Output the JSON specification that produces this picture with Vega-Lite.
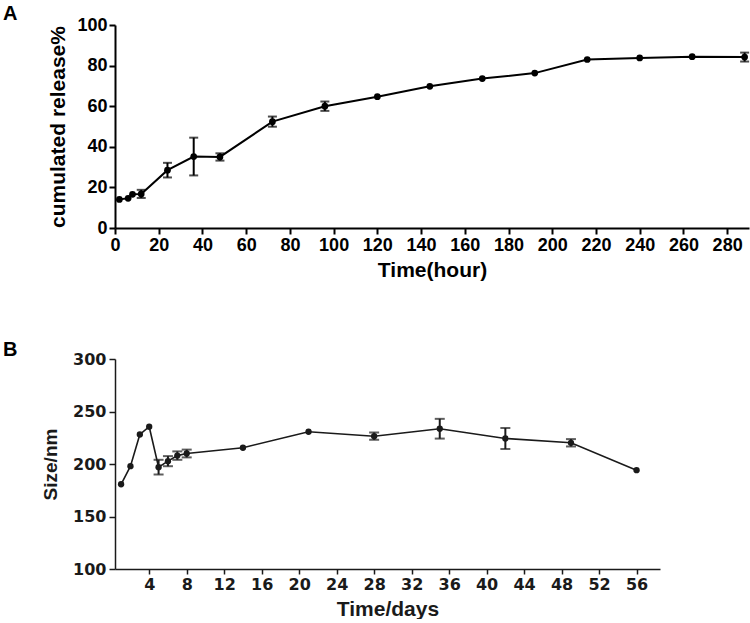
{
  "$schema": "https://vega.github.io/schema/vega-lite/v6.json",
  "padding": {"left": 3, "top": 4, "right": 0, "bottom": 0},
  "spacing": 60,
  "config": {"view": {"stroke": null}, "font": "Liberation Sans", "axis": {"grid": false}},
  "datasets": {
    "release": [
      {"time": 2, "mean": 14.1, "sd": 0},
      {"time": 6, "mean": 14.6, "sd": 0},
      {"time": 8, "mean": 16.6, "sd": 0},
      {"time": 12, "mean": 16.8, "sd": 2},
      {"time": 24, "mean": 28.5, "sd": 3.6},
      {"time": 36, "mean": 35.2, "sd": 9.3},
      {"time": 48, "mean": 35.0, "sd": 1.8},
      {"time": 72, "mean": 52.4, "sd": 2.5},
      {"time": 96, "mean": 60.0, "sd": 2.3},
      {"time": 120, "mean": 64.7, "sd": 0},
      {"time": 144, "mean": 69.8, "sd": 0},
      {"time": 168, "mean": 73.6, "sd": 0},
      {"time": 192, "mean": 76.3, "sd": 0},
      {"time": 216, "mean": 83.0, "sd": 0},
      {"time": 240, "mean": 83.8, "sd": 0},
      {"time": 264, "mean": 84.4, "sd": 0},
      {"time": 288, "mean": 84.2, "sd": 2.2}
    ],
    "size": [
      {"day": 1, "mean": 180.7, "sd": 0},
      {"day": 2, "mean": 197.9, "sd": 0},
      {"day": 3, "mean": 228.1, "sd": 0},
      {"day": 4, "mean": 235.5, "sd": 0},
      {"day": 5, "mean": 197.0, "sd": 7},
      {"day": 6, "mean": 202.7, "sd": 4.8},
      {"day": 7, "mean": 208.0, "sd": 4},
      {"day": 8, "mean": 210.0, "sd": 3.7},
      {"day": 14, "mean": 215.5, "sd": 0},
      {"day": 21, "mean": 230.7, "sd": 0},
      {"day": 28, "mean": 226.5, "sd": 3.5},
      {"day": 35, "mean": 233.6, "sd": 9.4},
      {"day": 42, "mean": 224.3, "sd": 10},
      {"day": 49, "mean": 220.2, "sd": 3.5},
      {"day": 56, "mean": 194.1, "sd": 0}
    ]
  },
  "vconcat": [
    {
      "title": {"text": "A", "anchor": "start", "frame": "group", "fontSize": 20, "fontWeight": "bold", "color": "black", "dx": -112, "offset": -8},
      "width": 634,
      "height": 203,
      "data": {"name": "release"},
      "encoding": {
        "x": {"field": "time", "type": "quantitative",
          "scale": {"domain": [0, 290], "nice": false, "zero": false},
          "axis": {"values": [0,20,40,60,80,100,120,140,160,180,200,220,240,260,280],
            "title": "Time(hour)", "titleFontSize": 21, "titleFontWeight": "bold", "titleColor": "black", "titlePadding": 5,
            "labelFontSize": 18, "labelFontWeight": "bold", "labelColor": "black", "labelPadding": 2,
            "labelFlush": false, "labelOverlap": false,
            "domainColor": "black", "domainWidth": 2, "tickColor": "black", "tickWidth": 2, "tickSize": 6}},
        "y": {"field": "mean", "type": "quantitative",
          "scale": {"domain": [0, 100], "nice": false},
          "axis": {"values": [0,20,40,60,80,100],
            "title": "cumulated release%", "titleFontSize": 21, "titleFontWeight": "bold", "titleColor": "black", "titlePadding": 8,
            "labelFontSize": 18, "labelFontWeight": "bold", "labelColor": "black", "labelPadding": 2,
            "labelFlush": false, "labelOverlap": false,
            "domainColor": "black", "domainWidth": 2, "tickColor": "black", "tickWidth": 2, "tickSize": 6}}
      },
      "layer": [
        {"mark": {"type": "line", "color": "black", "strokeWidth": 2}},
        {"transform": [{"filter": "datum.sd > 0"}],
         "mark": {"type": "errorbar", "color": "black", "thickness": 2, "ticks": {"size": 9, "thickness": 2, "color": "black"}},
         "encoding": {"yError": {"field": "sd"}}},
        {"mark": {"type": "point", "filled": true, "color": "black", "size": 45, "opacity": 1}}
      ]
    },
    {
      "title": {"text": "B", "anchor": "start", "frame": "group", "fontSize": 20, "fontWeight": "bold", "color": "black", "dx": -112, "offset": -9},
      "width": 545,
      "height": 210,
      "data": {"name": "size"},
      "encoding": {
        "x": {"field": "day", "type": "quantitative",
          "scale": {"domain": [0.35, 58.5], "nice": false, "zero": false},
          "axis": {"values": [4,8,12,16,20,24,28,32,36,40,44,48,52,56],
            "title": "Time/days", "titleFontSize": 21, "titleFontWeight": "bold", "titleColor": "#1a1a1a", "titlePadding": 6,
            "labelFont": "DejaVu Sans", "labelFontSize": 16, "labelFontWeight": "bold", "labelColor": "#1a1a1a", "labelPadding": 2,
            "labelFlush": false, "labelOverlap": false,
            "domainColor": "#1a1a1a", "domainWidth": 1.5, "tickColor": "#1a1a1a", "tickWidth": 1.5, "tickSize": 5}},
        "y": {"field": "mean", "type": "quantitative",
          "scale": {"domain": [100, 300], "nice": false, "zero": false},
          "axis": {"values": [100,150,200,250,300],
            "title": "Size/nm", "titleFontSize": 19, "titleFontWeight": "bold", "titleColor": "#1a1a1a", "titlePadding": 12,
            "labelFont": "DejaVu Sans", "labelFontSize": 16, "labelFontWeight": "bold", "labelColor": "#1a1a1a", "labelPadding": 3,
            "labelFlush": false, "labelOverlap": false,
            "domainColor": "#1a1a1a", "domainWidth": 1.5, "tickColor": "#1a1a1a", "tickWidth": 1.5, "tickSize": 6}}
      },
      "layer": [
        {"mark": {"type": "line", "color": "#1a1a1a", "strokeWidth": 1.6}},
        {"transform": [{"filter": "datum.sd > 0"}],
         "mark": {"type": "errorbar", "color": "#1a1a1a", "thickness": 2, "ticks": {"size": 10, "thickness": 2, "color": "#1a1a1a"}},
         "encoding": {"yError": {"field": "sd"}}},
        {"mark": {"type": "point", "filled": true, "color": "#1a1a1a", "size": 40, "opacity": 1}}
      ]
    }
  ]
}
